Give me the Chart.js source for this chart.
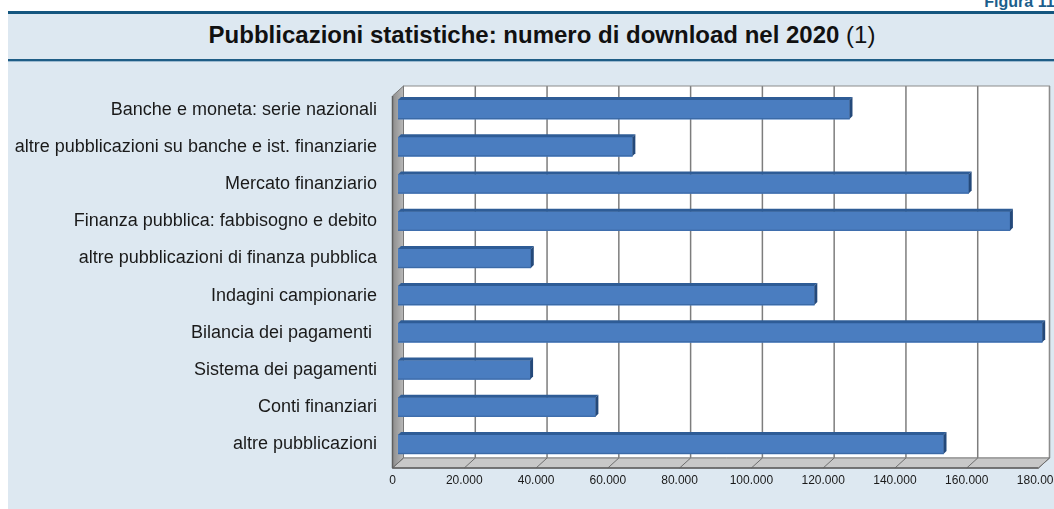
<!DOCTYPE html>
<html>
<head>
<meta charset="utf-8">
<script src="https://cdn.jsdelivr.net/npm/chart.js@4"></script>
<style>
  html, body { margin: 0; padding: 0; }
  body { width: 1054px; height: 509px; overflow: hidden; position: relative; background: #ffffff; font-family: "Liberation Sans", Arial, sans-serif; }
  #fig { position: absolute; top: -7px; right: -5px; font-weight: bold; font-size: 16px; color: #1b5e8c; white-space: nowrap; }
  #panel { position: absolute; left: 8px; top: 11px; right: 0; bottom: 0; background: #dde8f1; border-top: 3px solid #14567f; }
  #title { position: absolute; left: 0; right: 0; top: 7px; text-align: center; font-size: 24px; color: #111; white-space: nowrap; padding-left: 22px; }
  #title b { font-weight: bold; }
  #rule { position: absolute; left: 0; right: 0; top: 45px; height: 2px; background: #1e5d86; border-bottom: 1px solid #9cbad0; }
  #c { position: absolute; left: 0; top: 0; }
</style>
</head>
<body>
<div id="fig">Figura 11.</div>
<div id="panel">
  <div id="title"><b>Pubblicazioni statistiche: numero di download nel 2020</b> (1)</div>
  <div id="rule"></div>
</div>
<canvas id="c" width="1054" height="509"></canvas>
<script>
// ---- data ----
const categories = [
  "Banche e moneta: serie nazionali",
  "altre pubblicazioni su banche e ist. finanziarie",
  "Mercato finanziario",
  "Finanza pubblica: fabbisogno e debito",
  "altre pubblicazioni di finanza pubblica",
  "Indagini campionarie",
  "Bilancia dei pagamenti ",
  "Sistema dei pagamenti",
  "Conti finanziari",
  "altre pubblicazioni"
];
const downloads = [125800, 65300, 159000, 170500, 37000, 116000, 179500, 36800, 55000, 152000];
const tickValues = [0, 20000, 40000, 60000, 80000, 100000, 120000, 140000, 160000, 180000];
const tickLabels = ["0", "20.000", "40.000", "60.000", "80.000", "100.000", "120.000", "140.000", "160.000", "180.000"];

// ---- 3D look ----
const DEPTH_X = 11, DEPTH_Y = 10;   // wall depth
const BAR_DX = 3, BAR_DY = 3;       // bar depth

const wallsPlugin = {
  id: 'walls3d',
  beforeDatasetsDraw(chart) {
    const { ctx, chartArea: a, scales: { x } } = chart;
    const hx = DEPTH_X / 2, hy = DEPTH_Y / 2;
    const bL = a.left + hx, bR = a.right + hx, bT = a.top - hy, bB = a.bottom - hy;
    const fL = a.left - hx, fR = a.right - hx, fT = a.top + hy, fB = a.bottom + hy;
    ctx.save();
    // back wall
    ctx.fillStyle = '#ffffff';
    ctx.fillRect(bL, bT, bR - bL, bB - bT);
    // gridlines on back wall
    ctx.strokeStyle = '#7d7d7d';
    ctx.lineWidth = 1.5;
    tickValues.forEach(v => {
      if (v === 0) return;
      const px = x.getPixelForValue(v) + hx;
      ctx.beginPath(); ctx.moveTo(px, bT); ctx.lineTo(px, bB); ctx.stroke();
    });
    ctx.lineWidth = 1;
    ctx.strokeStyle = '#8c8c8c';
    ctx.strokeRect(bL, bT, bR - bL, bB - bT);
    // left wall
    const g = ctx.createLinearGradient(fL, 0, bL, 0);
    g.addColorStop(0, '#8d8d8d'); g.addColorStop(1, '#b9b9b9');
    ctx.fillStyle = g;
    ctx.beginPath();
    ctx.moveTo(fL, fT); ctx.lineTo(bL, bT); ctx.lineTo(bL, bB); ctx.lineTo(fL, fB); ctx.closePath();
    ctx.fill();
    ctx.strokeStyle = '#777777'; ctx.stroke();
    // floor
    ctx.fillStyle = '#c8c8c8';
    ctx.beginPath();
    ctx.moveTo(fL, fB); ctx.lineTo(bL, bB); ctx.lineTo(bR, bB); ctx.lineTo(fR, fB); ctx.closePath();
    ctx.fill();
    ctx.strokeStyle = '#808080'; ctx.stroke();
    // floor diagonals at ticks
    ctx.strokeStyle = '#6e6e6e';
    tickValues.forEach(v => {
      const px = x.getPixelForValue(v);
      ctx.beginPath(); ctx.moveTo(px - hx, fB); ctx.lineTo(px + hx, bB); ctx.stroke();
    });
    // front floor edge
    ctx.strokeStyle = '#5f5f5f'; ctx.lineWidth = 1.5;
    ctx.beginPath(); ctx.moveTo(fL, fB); ctx.lineTo(fR, fB); ctx.stroke();
    ctx.beginPath(); ctx.moveTo(fL, fT); ctx.lineTo(fL, fB); ctx.stroke();
    ctx.restore();
  },
  afterDatasetsDraw(chart) {
    const { ctx } = chart;
    const meta = chart.getDatasetMeta(0);
    ctx.save();
    meta.data.forEach(el => {
      const { x, y, base, height } = el.getProps(['x', 'y', 'base', 'height'], true);
      const top = y - height / 2, bot = y + height / 2;
      // top face
      ctx.fillStyle = '#2e5c96';
      ctx.beginPath();
      ctx.moveTo(base, top); ctx.lineTo(base + BAR_DX, top - BAR_DY);
      ctx.lineTo(x + BAR_DX, top - BAR_DY); ctx.lineTo(x, top); ctx.closePath();
      ctx.fill();
      // side face
      ctx.fillStyle = '#24497a';
      ctx.beginPath();
      ctx.moveTo(x, top); ctx.lineTo(x + BAR_DX, top - BAR_DY);
      ctx.lineTo(x + BAR_DX, bot - BAR_DY); ctx.lineTo(x, bot); ctx.closePath();
      ctx.fill();
      // subtle bottom edge
      ctx.strokeStyle = '#3a68a4'; ctx.lineWidth = 1;
      ctx.beginPath(); ctx.moveTo(base, bot - 0.5); ctx.lineTo(x, bot - 0.5); ctx.stroke();
    });
    ctx.restore();
  }
};

new Chart(document.getElementById('c'), {
  type: 'bar',
  data: {
    labels: categories,
    datasets: [{
      data: downloads,
      backgroundColor: '#4a7dc0',
      borderWidth: 0,
      barThickness: 19
    }]
  },
  options: {
    indexAxis: 'y',
    responsive: false,
    animation: false,
    devicePixelRatio: 1,
    layout: { padding: { top: 91, right: 10, left: 0, bottom: 0 } },
    plugins: { legend: { display: false }, tooltip: { enabled: false } },
    scales: {
      x: {
        min: 0, max: 180000,
        afterBuildTicks: s => { s.ticks = tickValues.map(v => ({ value: v })); },
        ticks: {
          autoSkip: false, maxRotation: 0,
          callback: (v, i) => tickLabels[i],
          font: { family: 'Liberation Sans', size: 12 },
          color: '#1a1a1a', padding: 10, labelOffset: -5.5
        },
        grid: { display: false, drawTicks: false },
        border: { display: false },
        afterFit: s => { s.height = 46; s.paddingLeft = 0; s.paddingRight = 0; }
      },
      y: {
        ticks: {
          autoSkip: false,
          font: { family: 'Liberation Sans', size: 18 },
          color: '#1a1a1a', padding: 21
        },
        grid: { display: false, drawTicks: false },
        border: { display: false },
        afterFit: s => { s.width = 398; s.paddingTop = 0; s.paddingBottom = 0; }
      }
    }
  },
  plugins: [wallsPlugin]
});
</script>
</body>
</html>
